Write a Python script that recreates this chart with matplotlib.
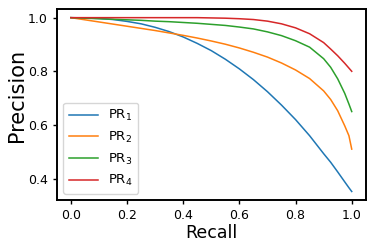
import numpy as np
import matplotlib
matplotlib.use('Agg')
import matplotlib.pyplot as plt

# recall grid
recall = [0.0, 0.05, 0.1, 0.15, 0.2, 0.25, 0.3, 0.35, 0.4, 0.45, 0.5, 0.55,
          0.6, 0.65, 0.7, 0.75, 0.8, 0.85, 0.9, 0.925, 0.95, 0.975, 0.99, 1.0]

# precision values for each curve
pr1 = [1.0, 0.999, 0.997, 0.993, 0.986, 0.977, 0.964, 0.948, 0.928, 0.904, 0.877, 0.845,
       0.809, 0.769, 0.724, 0.674, 0.620, 0.560, 0.493, 0.461, 0.425, 0.388, 0.366, 0.352]
pr2 = [1.0, 0.992, 0.984, 0.976, 0.968, 0.960, 0.952, 0.943, 0.934, 0.924, 0.913, 0.901,
       0.887, 0.871, 0.853, 0.831, 0.805, 0.773, 0.727, 0.695, 0.653, 0.597, 0.560, 0.510]
pr3 = [1.0, 0.998, 0.996, 0.994, 0.992, 0.990, 0.987, 0.985, 0.982, 0.979, 0.975, 0.971,
       0.965, 0.958, 0.947, 0.933, 0.914, 0.890, 0.847, 0.815, 0.772, 0.718, 0.678, 0.650]
pr4 = [1.0, 1.0, 1.0, 1.0, 1.0, 1.0, 1.0, 1.0, 1.0, 1.0, 0.999, 0.998,
       0.996, 0.993, 0.987, 0.977, 0.962, 0.940, 0.907, 0.883, 0.858, 0.830, 0.812, 0.800]

labels = ['PR$_1$', 'PR$_2$', 'PR$_3$', 'PR$_4$']
colors = ['#1f77b4', '#ff7f0e', '#2ca02c', '#d62728']

fig = plt.figure(figsize=(3.74, 2.49), dpi=100)
ax = fig.add_axes([0.152, 0.196, 0.826, 0.768])

for ys, lab, c in zip([pr1, pr2, pr3, pr4], labels, colors):
    ax.plot(recall, ys, color=c, label=lab, linewidth=1.1)

ax.set_xlabel('Recall', fontsize=12.5, labelpad=1)
ax.set_ylabel('Precision', fontsize=15)
ax.yaxis.set_label_coords(-0.096, 0.55)
ax.set_xticks([0.0, 0.2, 0.4, 0.6, 0.8, 1.0])
ax.set_yticks([0.4, 0.6, 0.8, 1.0])
ax.tick_params(labelsize=9, width=1.0, length=3)
for s in ax.spines.values():
    s.set_linewidth(1.4)

ax.legend(loc='lower left', fontsize=9.5, handlelength=2.2)

fig.savefig('out.png', dpi=100)
